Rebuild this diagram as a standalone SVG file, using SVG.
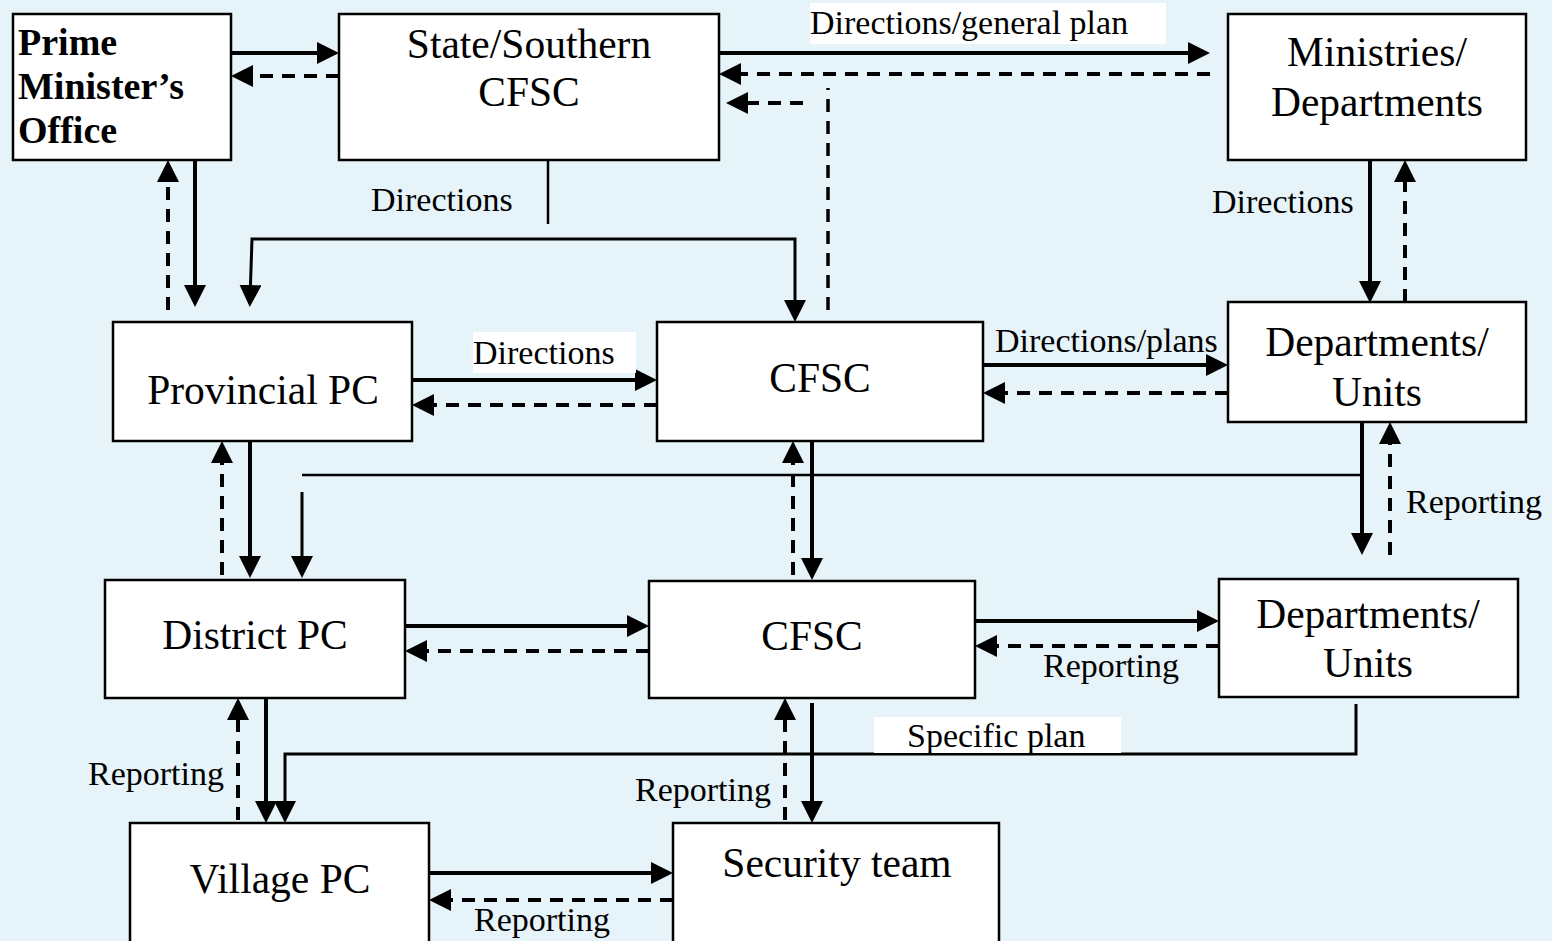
<svg xmlns="http://www.w3.org/2000/svg" width="1552" height="941" viewBox="0 0 1552 941">
<style>
.box{fill:#fff;stroke:#000;stroke-width:2.5}
.t{font-family:"Liberation Serif","Times New Roman",serif;font-size:41.5px;fill:#000;text-anchor:middle}
.b{font-family:"Liberation Serif","Times New Roman",serif;font-size:38px;font-weight:bold;fill:#000}
.l{font-family:"Liberation Serif","Times New Roman",serif;font-size:34px;fill:#000}
.s{fill:none;stroke:#000;stroke-width:4;marker-end:url(#ah)}
.d{fill:none;stroke:#000;stroke-width:4;stroke-dasharray:13 9;marker-end:url(#ah)}
.dn{fill:none;stroke:#000;stroke-width:3.5;stroke-dasharray:13 9}
.th{fill:none;stroke:#000;stroke-width:2.5}
.m{fill:none;stroke:#000;stroke-width:3;marker-end:url(#ah)}
.wb{fill:#fff}
</style>
<defs>
<marker id="ah" viewBox="0 0 22 22" refX="14" refY="11" markerWidth="22" markerHeight="22" markerUnits="userSpaceOnUse" orient="auto">
<path d="M0,0 L22,11 L0,22 z" fill="#000"/>
</marker>
</defs>
<rect width="1552" height="941" fill="#e6f4f9"/>

<g id="connectors">
<path class="s" d="M231,53 H331"/>
<path class="d" d="M339,76 H239"/>
<path class="s" d="M719,53 H1202"/>
<path class="d" d="M1210,74 H727"/>
<path class="dn" d="M828,310 V88"/>
<path class="d" d="M803,103 H734"/>
<path class="s" d="M195,160 V299"/>
<path class="d" d="M168,310 V168"/>
<path class="th" d="M548,160 V224"/>
<path class="m" d="M550,239 H252 L250,299"/>
<path class="m" d="M550,239 H795 V314"/>
<path class="s" d="M412,380 H649"/>
<path class="d" d="M657,405 H420"/>
<path class="s" d="M983,365 H1220"/>
<path class="d" d="M1228,393 H991"/>
<path class="s" d="M1370,160 V295"/>
<path class="d" d="M1405,302 V168"/>
<path class="s" d="M250,441 V570"/>
<path class="d" d="M222,575 V449"/>
<path class="s" d="M1362,422 V547"/>
<path class="th" d="M302,475 H1362"/>
<path class="m" d="M302,492 V570"/>
<path class="d" d="M1390,555 V430"/>
<path class="s" d="M812,441 V572"/>
<path class="d" d="M793,575 V449"/>
<path class="s" d="M405,626 H641"/>
<path class="d" d="M649,651 H413"/>
<path class="s" d="M975,621 H1211"/>
<path class="d" d="M1219,646 H983"/>
<path class="s" d="M266,698 V815"/>
<path class="d" d="M238,820 V706"/>
<path class="m" d="M1356,704 V754 H285 V815"/>
<path class="s" d="M812,703 V815"/>
<path class="d" d="M785,820 V706"/>
<path class="s" d="M429,873 H665"/>
<path class="d" d="M673,900 H437"/>
</g>

<g id="labels">
<text class="l" x="371" y="211">Directions</text>
<rect class="wb" x="810" y="3" width="356" height="41"/>
<text class="l" x="810" y="34">Directions/general plan</text>
<rect class="wb" x="473" y="332" width="163" height="41"/>
<text class="l" x="473" y="364">Directions</text>
<text class="l" x="995" y="352">Directions/plans</text>
<text class="l" x="1212" y="213">Directions</text>
<text class="l" x="1406" y="513">Reporting</text>
<text class="l" x="1043" y="677">Reporting</text>
<rect class="wb" x="874" y="717" width="247" height="36"/>
<text class="l" x="907" y="747">Specific plan</text>
<text class="l" x="88" y="785">Reporting</text>
<text class="l" x="635" y="801">Reporting</text>
<text class="l" x="474" y="931">Reporting</text>
</g>

<g id="pmo">
<rect class="box" x="13" y="14" width="218" height="146"/>
<text class="b" x="18" y="55">Prime</text>
<text class="b" x="18" y="99">Minister’s</text>
<text class="b" x="18" y="143">Office</text>
</g>
<g id="state-cfsc">
<rect class="box" x="339" y="14" width="380" height="146"/>
<text class="t" x="529" y="58">State/Southern</text>
<text class="t" x="529" y="106">CFSC</text>
</g>
<g id="ministries">
<rect class="box" x="1228" y="14" width="298" height="146"/>
<text class="t" x="1377" y="66">Ministries/</text>
<text class="t" x="1377" y="116">Departments</text>
</g>
<g id="provincial-pc">
<rect class="box" x="113" y="322" width="299" height="119"/>
<text class="t" x="263" y="404">Provincial PC</text>
</g>
<g id="cfsc-mid">
<rect class="box" x="657" y="322" width="326" height="119"/>
<text class="t" x="820" y="392">CFSC</text>
</g>
<g id="depts-units-1">
<rect class="box" x="1228" y="302" width="298" height="120"/>
<text class="t" x="1377" y="356">Departments/</text>
<text class="t" x="1377" y="406">Units</text>
</g>
<g id="district-pc">
<rect class="box" x="105" y="580" width="300" height="118"/>
<text class="t" x="255" y="649">District PC</text>
</g>
<g id="cfsc-low">
<rect class="box" x="649" y="581" width="326" height="117"/>
<text class="t" x="812" y="650">CFSC</text>
</g>
<g id="depts-units-2">
<rect class="box" x="1219" y="579" width="299" height="118"/>
<text class="t" x="1368" y="628">Departments/</text>
<text class="t" x="1368" y="677">Units</text>
</g>
<g id="village-pc">
<rect class="box" x="130" y="823" width="299" height="140"/>
<text class="t" x="280" y="893">Village PC</text>
</g>
<g id="security-team">
<rect class="box" x="673" y="823" width="326" height="140"/>
<text class="t" x="837" y="877">Security team</text>
</g>
</svg>
